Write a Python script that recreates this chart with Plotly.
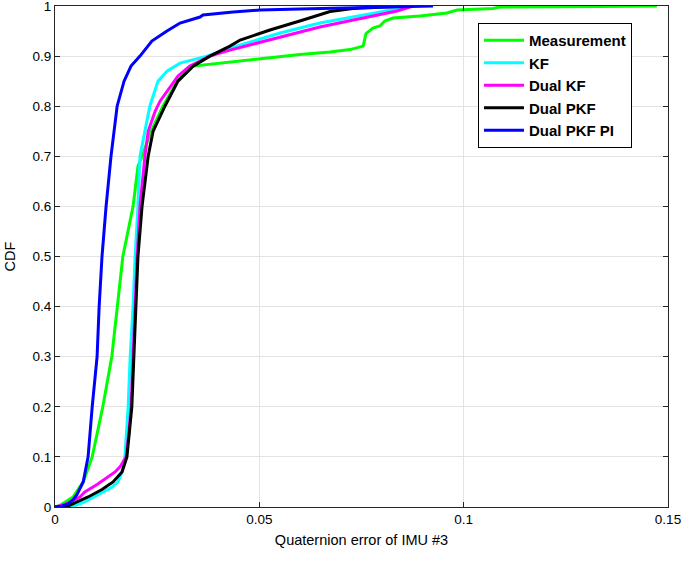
import plotly.graph_objects as go

# --- CDF curves (x = quaternion error, y = CDF) ---
meas_x = [0, 0.0012, 0.0044, 0.0069, 0.0091, 0.0117, 0.0139, 0.0152, 0.0166, 0.0191,
          0.0203, 0.0213, 0.0235, 0.0264, 0.0299, 0.0338, 0.0436,
          0.0509, 0.0543, 0.0599, 0.0673, 0.0722, 0.0754, 0.0761, 0.0771, 0.0778, 0.0795,
          0.0807, 0.0827, 0.0893, 0.0959, 0.0984, 0.1072, 0.1089, 0.1334, 0.1473]
meas_y = [0, 0.003, 0.02, 0.05, 0.1, 0.2, 0.3, 0.4, 0.5, 0.6,
          0.68, 0.7, 0.75, 0.8, 0.85, 0.88, 0.888,
          0.894, 0.898, 0.903, 0.908, 0.913, 0.92, 0.945, 0.952, 0.956, 0.96,
          0.97, 0.976, 0.98, 0.986, 0.992, 0.995, 0.998, 0.999, 1.0]

kf_x = [0, 0.0049, 0.0073, 0.0105, 0.0140, 0.0154, 0.0164, 0.0171, 0.0179, 0.0184,
        0.0191, 0.0196, 0.0203, 0.0208, 0.0213, 0.0220, 0.0232, 0.0252,
        0.0274, 0.0306, 0.0372, 0.0436, 0.0551, 0.0648, 0.0754, 0.0820, 0.0876]
kf_y = [0, 0.003, 0.01, 0.025, 0.04, 0.05, 0.07, 0.1, 0.2, 0.3,
        0.4, 0.5, 0.6, 0.7, 0.72, 0.75, 0.8, 0.85,
        0.87, 0.886, 0.9, 0.918, 0.946, 0.966, 0.982, 0.993, 1.0]

dkf_x = [0, 0.0024, 0.0061, 0.0073, 0.0103, 0.0130, 0.0147, 0.0159, 0.0174, 0.0181,
         0.0186, 0.0191, 0.0196, 0.0201, 0.0208, 0.0220, 0.0228, 0.0245, 0.0257,
         0.0274, 0.0301, 0.0330, 0.0379, 0.0428, 0.0551, 0.0648, 0.0754, 0.0837, 0.0876]
dkf_y = [0, 0.005, 0.02, 0.03, 0.045, 0.06, 0.07, 0.08, 0.1, 0.15,
         0.2, 0.3, 0.4, 0.5, 0.6, 0.7, 0.75, 0.79, 0.81,
         0.83, 0.86, 0.88, 0.9, 0.912, 0.938, 0.958, 0.976, 0.99, 1.0]

dpkf_x = [0, 0.0032, 0.0054, 0.0081, 0.0115, 0.0142, 0.0164, 0.0176, 0.0188, 0.0193,
          0.0198, 0.0203, 0.0213, 0.0228, 0.0240, 0.0269, 0.0301,
          0.0338, 0.0379, 0.0428, 0.0453, 0.0526, 0.0607, 0.0673, 0.0729, 0.0795, 0.0861]
dpkf_y = [0, 0.002, 0.01, 0.02, 0.035, 0.05, 0.07, 0.1, 0.2, 0.3,
          0.4, 0.5, 0.6, 0.7, 0.75, 0.8, 0.85,
          0.88, 0.9, 0.92, 0.932, 0.952, 0.972, 0.989, 0.995, 0.998, 1.0]

pi_x = [0, 0.0015, 0.0032, 0.0045, 0.0054, 0.0069, 0.0081, 0.0091, 0.0103, 0.0108,
        0.0115, 0.0125, 0.0137, 0.0144, 0.0152, 0.0169, 0.0186, 0.0208, 0.0237,
        0.0274, 0.0306, 0.0355, 0.0362, 0.0436, 0.0502, 0.0599, 0.0714, 0.0844, 0.0925]
pi_y = [0, 0.001, 0.006, 0.015, 0.025, 0.05, 0.1, 0.2, 0.3, 0.4,
        0.5, 0.6, 0.7, 0.75, 0.8, 0.85, 0.88, 0.9, 0.93,
        0.95, 0.966, 0.978, 0.982, 0.988, 0.992, 0.994, 0.996, 0.998, 1.0]

series = [
    ("Measurement", meas_x, meas_y, "#00FF00"),
    ("KF", kf_x, kf_y, "#00FFFF"),
    ("Dual KF", dkf_x, dkf_y, "#FF00FF"),
    ("Dual PKF", dpkf_x, dpkf_y, "#000000"),
    ("Dual PKF PI", pi_x, pi_y, "#0000FF"),
]

x_ticks = [0, 0.05, 0.1, 0.15]
x_labels = ["0", "0.05", "0.1", "0.15"]
y_ticks = [0, 0.1, 0.2, 0.3, 0.4, 0.5, 0.6, 0.7, 0.8, 0.9, 1]
y_labels = ["0", "0.1", "0.2", "0.3", "0.4", "0.5", "0.6", "0.7", "0.8", "0.9", "1"]

fig = go.Figure()
for name, xs, ys, color in series:
    fig.add_trace(go.Scatter(x=xs, y=ys, mode="lines", name=name,
                             line=dict(color=color, width=3)))

# MATLAB-like box axes: inward ticks, mirrored on top/right, light grid
axis_style = dict(
    showline=True, linecolor="#262626", linewidth=1, mirror="ticks",
    ticks="inside", ticklen=5, tickcolor="#262626",
    showgrid=True, gridcolor="#E3E3E3", gridwidth=1, zeroline=False,
    tickfont=dict(size=13.5, color="black"),
    automargin=False, ticklabeloverflow="allow",
)

fig.update_layout(
    width=685, height=561,
    margin=dict(l=55, r=17, t=6, b=54),
    paper_bgcolor="white", plot_bgcolor="white",
    font=dict(family="Liberation Sans, Arial, sans-serif", color="black"),
    xaxis=dict(range=[0, 0.15], tickvals=x_ticks, ticktext=x_labels,
               title=dict(text="Quaternion error of IMU #3", font=dict(size=14.5), standoff=8),
               **axis_style),
    yaxis=dict(range=[0, 1], tickvals=y_ticks, ticktext=y_labels,
               title=dict(text="CDF", font=dict(size=14.5), standoff=13),
               **axis_style),
    legend=dict(x=0.69, y=0.966, xanchor="left", yanchor="top",
                bgcolor="white", bordercolor="black", borderwidth=1,
                font=dict(size=15, family="Liberation Sans, Arial, sans-serif", weight="bold"),
                tracegroupgap=0, itemwidth=40),
    showlegend=True,
)

# drop the default page margin so the figure sits at the window's corner
fig.write_html("out.html", config={"displayModeBar": False},
               post_script="document.body.style.margin='0';")
